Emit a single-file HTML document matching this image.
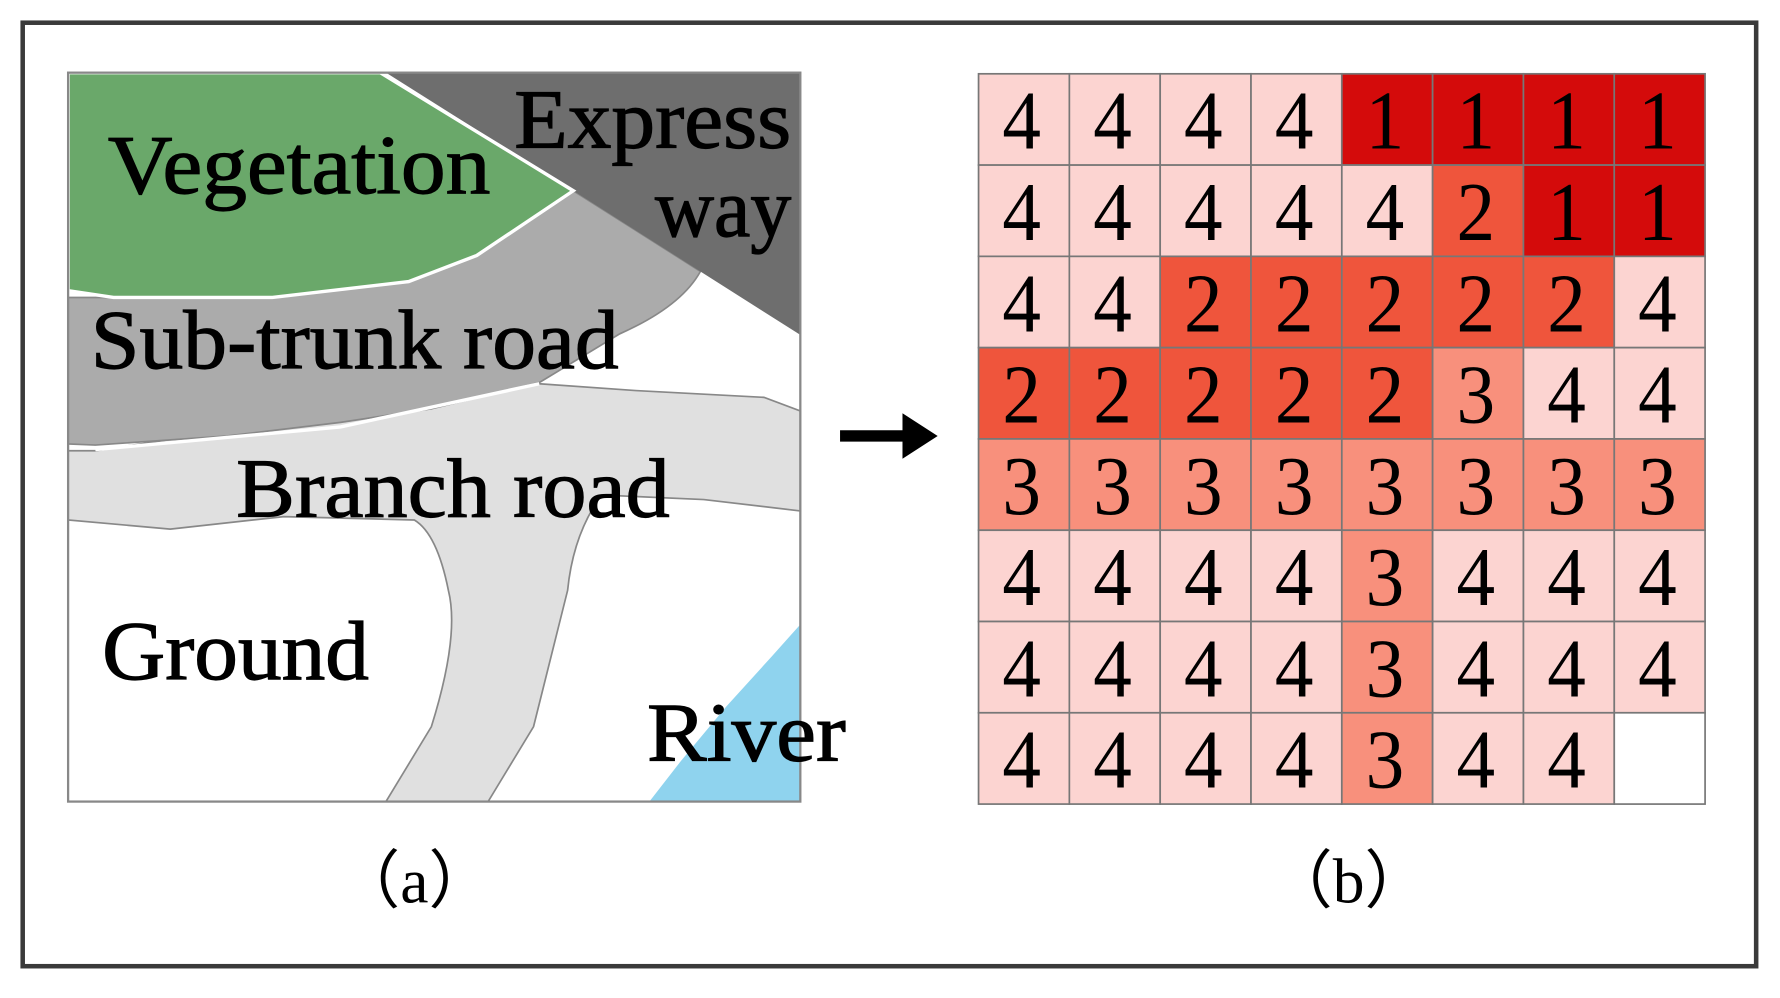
<!DOCTYPE html>
<html><head><style>html,body{margin:0;padding:0;background:#fff}svg{display:block}</style></head>
<body>
<svg width="1780" height="998" viewBox="0 0 1568 879" preserveAspectRatio="none" xmlns="http://www.w3.org/2000/svg" font-family="'Liberation Serif', serif">
<rect x="0" y="0" width="1568" height="879" fill="#fff"/>
<rect x="20" y="20" width="1527" height="831" fill="none" stroke="#3a3a3a" stroke-width="4"/>
<!-- panel a -->
<rect x="60" y="64" width="645" height="642" fill="#fff"/>
<!-- branch road -->
<path d="M60,397 L84,397 L475,338 L560,344 L673,350 L705,362 L705,450 L620,440 L530,436 Q505,470 500,520 L470,640 L430,706 L340,706 L380,640 Q405,560 395,520 Q385,470 365,458 L250,455 L150,466 L60,458 Z" fill="#e0e0e0" stroke="#888" stroke-width="1.5"/>
<!-- sub-trunk -->
<path d="M60,262 L240,262 L360,248 L420,225 L505,168 L617,239 Q600,270 546,294 L475,337 L380,360 L300,372 L200,384 L84,392 L60,391 Z" fill="#ababab" stroke="#888" stroke-width="1.5"/>
<path d="M84,396 L300,376 L475,338" fill="none" stroke="#fff" stroke-width="3"/>
<!-- expressway -->
<path d="M340,64 L705,64 L705,295 L505,168 Z" fill="#6e6e6e"/>
<!-- vegetation -->
<path d="M60,64 L335,64 L505,168 L420,225 L360,248 L240,262 L100,262 L60,256 Z" fill="#6aa86a" stroke="#fff" stroke-width="3"/>
<!-- river -->
<path d="M572,706 L705,706 L705,550 L680,578 L640,622 L600,670 Z" fill="#8fd3ee"/>
<rect x="60" y="64" width="645" height="642" fill="none" stroke="#888" stroke-width="2"/>
<g font-size="74" fill="#000" stroke="#000" stroke-width="1">
<text x="95" y="170" textLength="337" lengthAdjust="spacingAndGlyphs">Vegetation</text>
<text x="453" y="130" textLength="244" lengthAdjust="spacingAndGlyphs">Express</text>
<text x="577" y="208" textLength="120" lengthAdjust="spacingAndGlyphs">way</text>
<text x="80" y="324" textLength="465" lengthAdjust="spacingAndGlyphs">Sub-trunk road</text>
<text x="208" y="455" textLength="382" lengthAdjust="spacingAndGlyphs">Branch road</text>
<text x="90" y="598" textLength="235" lengthAdjust="spacingAndGlyphs">Ground</text>
<text x="570" y="670" textLength="175" lengthAdjust="spacingAndGlyphs">River</text>
</g>
<!-- arrow -->
<path d="M740,379 L795,379 L795,364 L826,384 L795,404 L795,389 L740,389 Z" fill="#000"/>
<!-- grid -->
<g id="grid" stroke="#777" stroke-width="1.5" font-size="66" text-anchor="middle">
</g>
<g font-size="56" text-anchor="middle">
<text x="365" y="795">（a）</text>
<text x="1188" y="795">（b）</text>
</g>
<script>
var rows=["44441111","44444211","44222224","22222344","33333333","44443444","44443444","4444344x"];
var col={"1":"#d40b0b","2":"#ef553c","3":"#f8907c","4":"#fcd4d1","x":"#ffffff"};
var g=document.getElementById("grid"),ns="http://www.w3.org/2000/svg";
var x0=862,y0=65,w=80,h=80.4;
for(var r=0;r<8;r++)for(var c=0;c<8;c++){var v=rows[r][c];
var R=document.createElementNS(ns,"rect");R.setAttribute("x",x0+c*w);R.setAttribute("y",y0+r*h);R.setAttribute("width",w);R.setAttribute("height",h);R.setAttribute("fill",col[v]);g.appendChild(R);
if(v!="x"){var T=document.createElementNS(ns,"text");T.setAttribute("x",x0+c*w+w/2-2);T.setAttribute("y",y0+r*h+66);T.setAttribute("stroke","none");T.setAttribute("fill","#000");T.setAttribute("font-size","74");T.setAttribute("textLength","34");T.setAttribute("lengthAdjust","spacingAndGlyphs");T.textContent=v;g.appendChild(T);}}
</script>
</svg>
</body></html>
